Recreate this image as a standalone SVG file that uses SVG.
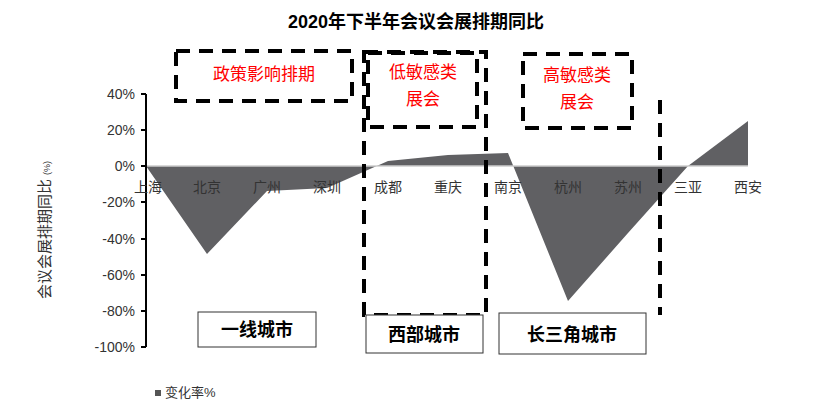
<svg xmlns="http://www.w3.org/2000/svg" width="833" height="417" viewBox="0 0 833 417">
<style>
text{font-family:"Liberation Sans","Noto Sans CJK SC",sans-serif}
.t{font-size:14px;fill:#333;text-anchor:middle}
.y{font-size:14px;fill:#333;text-anchor:end}
.d{fill:none;stroke:#000;stroke-width:4;stroke-dasharray:14,9}
.r{font-size:17px;fill:#f00;text-anchor:middle}
.b{fill:#fff;stroke:#333;stroke-width:1}
.bt{font-size:18px;fill:#000;text-anchor:middle;font-weight:bold}
</style>
<rect width="833" height="417" fill="#fff"/>
<text x="416" y="28" font-size="18" font-weight="bold" text-anchor="middle">2020年下半年会议会展排期同比</text>
<g id="chart">
<path d="M146,166 L207,254 L267,191 L327,188 L388,161 L448,155 L508,153 L568,301 L628,233 L688,166 L748,121 L748,166 Z" fill="#606063"/>
<line x1="146" y1="166" x2="748" y2="166" stroke="#ccc" stroke-width="1.5"/>
<line x1="146" y1="94" x2="146" y2="347" stroke="#000" stroke-width="2"/>
<g stroke="#000" stroke-width="2">
<line x1="141" y1="94" x2="146" y2="94"/><line x1="141" y1="130" x2="146" y2="130"/><line x1="141" y1="166" x2="146" y2="166"/><line x1="141" y1="202" x2="146" y2="202"/><line x1="141" y1="239" x2="146" y2="239"/><line x1="141" y1="275" x2="146" y2="275"/><line x1="141" y1="311" x2="146" y2="311"/><line x1="141" y1="347" x2="146" y2="347"/>
</g>
<text class="y" x="135" y="99">40%</text><text class="y" x="135" y="135">20%</text><text class="y" x="135" y="171">0%</text><text class="y" x="135" y="207">-20%</text><text class="y" x="135" y="244">-40%</text><text class="y" x="135" y="280">-60%</text><text class="y" x="135" y="316">-80%</text><text class="y" x="135" y="352">-100%</text>
<text class="t" x="148" y="192">上海</text><text class="t" x="207" y="192">北京</text><text class="t" x="267" y="192">广州</text><text class="t" x="327" y="192">深圳</text><text class="t" x="388" y="192">成都</text><text class="t" x="448" y="192">重庆</text><text class="t" x="508" y="192">南京</text><text class="t" x="568" y="192">杭州</text><text class="t" x="628" y="192">苏州</text><text class="t" x="688" y="192">三亚</text><text class="t" x="748" y="192">西安</text>
<text transform="translate(50,230) rotate(-90)" font-size="15" fill="#333" text-anchor="middle">会议会展排期同比 <tspan font-size="9">(%)</tspan></text>
</g>
<g id="connectors">
<rect class="d" x="176" y="51" width="176" height="50"/>
<rect class="d" x="364" y="52" width="122" height="263"/>
<rect class="d" x="368" y="53" width="109" height="74"/>
<rect class="d" x="523" y="54" width="109" height="74"/>
<line class="d" x1="660" y1="100" x2="660" y2="315"/>
</g>
<g id="n1"><text class="r" x="264" y="80">政策影响排期</text></g>
<g id="n2"><text class="r" x="423" y="78">低敏感类</text><text class="r" x="423" y="105">展会</text></g>
<g id="n3"><text class="r" x="577" y="81">高敏感类</text><text class="r" x="577" y="108">展会</text></g>
<g id="b1"><rect class="b" x="198" y="312" width="118" height="35"/><text class="bt" x="257" y="336">一线城市</text></g>
<g id="b2"><rect class="b" x="366" y="315" width="117" height="38"/><text class="bt" x="424" y="341">西部城市</text></g>
<g id="b3"><rect class="b" x="499" y="313" width="147" height="41"/><text class="bt" x="572" y="341">长三角城市</text></g>
<g id="legend"><rect x="155" y="390" width="6" height="6" fill="#555"/><text x="165" y="397" font-size="13" fill="#333">变化率%</text></g>
</svg>
